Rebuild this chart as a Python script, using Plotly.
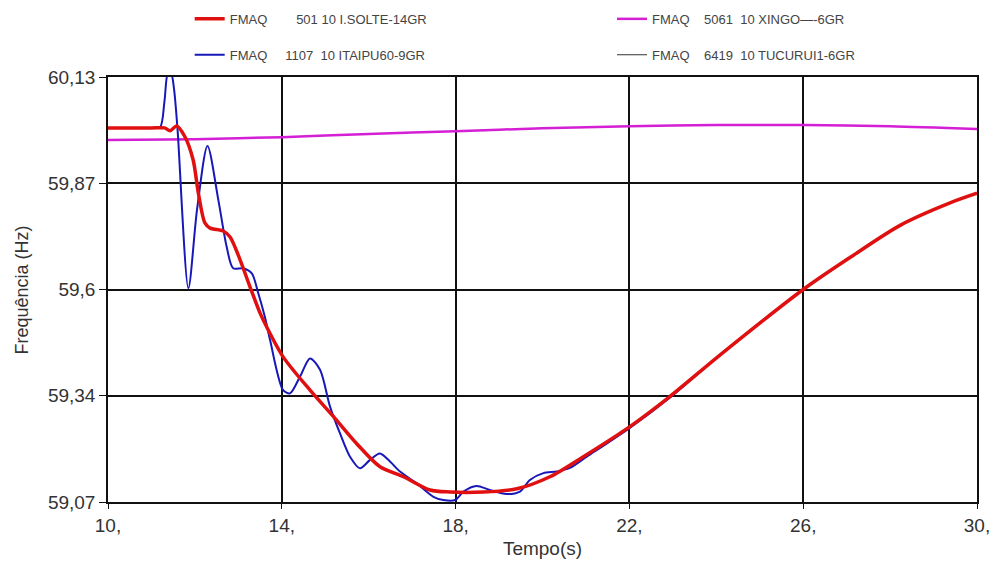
import plotly.graph_objects as go

# ---- data ----
t_solte = [10.0, 11.0, 11.3, 11.43, 11.58, 11.77, 11.96, 12.08, 12.23, 12.35, 12.65, 12.81,
           13.04, 13.27, 13.50, 13.65, 14.03, 14.65, 15.19, 15.72, 16.26, 16.80, 17.41,
           17.87, 18.64, 19.41, 20.17, 20.94, 22.01, 22.93, 24.09, 26.0, 27.08, 28.23,
           29.38, 30.0]
f_solte = [60.003, 60.003, 60.003, 59.996, 60.008, 59.981, 59.923, 59.840, 59.766, 59.753,
           59.746, 59.731, 59.674, 59.606, 59.541, 59.507, 59.432, 59.349, 59.283, 59.216,
           59.158, 59.133, 59.100, 59.095, 59.095, 59.103, 59.133, 59.183, 59.258, 59.333,
           59.437, 59.600, 59.680, 59.760, 59.816, 59.840]

t_itaipu = [10.0, 11.0, 11.2, 11.3, 11.38, 11.45, 11.52, 11.6, 11.85, 12.05, 12.29, 12.54,
            12.73, 12.88, 13.11, 13.31, 13.46, 13.61, 13.73, 14.03, 14.19, 14.42, 14.65,
            14.88, 15.11, 15.34, 15.57, 15.80, 16.03, 16.26, 16.49, 16.72, 17.10, 17.49,
            17.72, 17.99, 18.18, 18.48, 18.79, 19.17, 19.48, 19.71, 20.02, 20.33, 20.63,
            21.02, 22.01, 22.93, 24.09, 26.0, 27.08, 28.23, 29.38, 30.0]
f_itaipu = [60.003, 60.003, 60.005, 60.07, 60.14, 60.14, 60.10, 60.0, 59.603, 59.80, 59.958,
            59.823, 59.707, 59.653, 59.653, 59.640, 59.590, 59.532, 59.474, 59.349, 59.341,
            59.383, 59.428, 59.400, 59.308, 59.241, 59.183, 59.154, 59.175, 59.191, 59.171,
            59.146, 59.117, 59.083, 59.075, 59.075, 59.096, 59.110, 59.100, 59.090, 59.096,
            59.125, 59.142, 59.146, 59.155, 59.183, 59.255, 59.330, 59.437, 59.600, 59.680,
            59.760, 59.816, 59.840]

t_xingo = [10, 12, 14, 16, 18, 20, 22, 24, 26, 28, 30]
f_xingo = [59.973, 59.975, 59.980, 59.988, 59.995, 60.002, 60.007, 60.010, 60.010, 60.007, 60.000]

# Tucurui curve is hidden beneath the red curve in the reference
t_tucurui = t_solte
f_tucurui = f_solte

S = "\u00a0"
names = ["FMAQ" + S * 8 + "501 10 I.SOLTE-14GR",
         "FMAQ" + S * 5 + "1107" + S * 2 + "10 ITAIPU60-9GR",
         "FMAQ" + S * 4 + "5061" + S * 2 + "10 XINGO\u2014-6GR",
         "FMAQ" + S * 4 + "6419" + S * 2 + "10 TUCURUI1-6GR"]

x_ticks = [10, 14, 18, 22, 26, 30]
x_labels = ["10,", "14,", "18,", "22,", "26,", "30,"]
y_ticks = [59.07, 59.335, 59.6, 59.865, 60.13]
y_labels = ["59,07", "59,34", "59,6", "59,87", "60,13"]

fig = go.Figure()
fig.add_trace(go.Scatter(x=t_tucurui, y=f_tucurui, mode="lines", name=names[3],
                         line=dict(color="#333333", width=1, shape="spline", smoothing=0.8),
                         legend="legend2", legendgroup="d", legendrank=2))
fig.add_trace(go.Scatter(x=t_xingo, y=f_xingo, mode="lines", name=names[2],
                         line=dict(color="#d41fd4", width=2.5, shape="spline", smoothing=0.8),
                         legend="legend2", legendgroup="c", legendrank=1))
fig.add_trace(go.Scatter(x=t_itaipu, y=f_itaipu, mode="lines", name=names[1],
                         line=dict(color="#1818b8", width=2, shape="spline", smoothing=0.8),
                         legend="legend", legendgroup="b", legendrank=2))
fig.add_trace(go.Scatter(x=t_solte, y=f_solte, mode="lines", name=names[0],
                         line=dict(color="#e01010", width=3.5, shape="spline", smoothing=0.8),
                         legend="legend", legendgroup="a", legendrank=1))

leg_common = dict(orientation="v", font=dict(family="Liberation Sans, Arial", size=13, color="#444444"),
                  bgcolor="rgba(0,0,0,0)", tracegroupgap=16, traceorder="grouped",
                  xanchor="left", yanchor="top", yref="paper", itemwidth=30)

fig.update_layout(
    width=994, height=572,
    margin=dict(l=108, r=17, t=77, b=70, autoexpand=False),
    paper_bgcolor="white", plot_bgcolor="white",
    font=dict(family="Liberation Sans, Arial", color="#333333"),
    legend=dict(x=0.094, y=1.172, **leg_common),
    legend2=dict(x=0.58, y=1.172, **leg_common),
    xaxis=dict(range=[10, 30], tickvals=x_ticks, ticktext=x_labels,
               showgrid=True, gridcolor="#111111", gridwidth=1.5,
               showline=True, linecolor="#111111", linewidth=1.5, mirror=True,
               ticks="outside", ticklen=5, tickcolor="#111111",
               tickfont=dict(size=19, color="#333333"), zeroline=False,
               title=dict(text="Tempo(s)", font=dict(size=19, color="#333333"), standoff=7)),
    yaxis=dict(range=[59.07, 60.13], tickvals=y_ticks, ticktext=y_labels,
               showgrid=True, gridcolor="#111111", gridwidth=1.5,
               showline=True, linecolor="#111111", linewidth=1.5, mirror=True,
               ticks="outside", ticklen=7, tickcolor="#111111",
               tickfont=dict(size=19, color="#333333"), zeroline=False),
    annotations=[dict(text="Frequência (Hz)", textangle=-90, xref="paper", yref="paper",
                      x=-0.099, y=0.5, xanchor="center", yanchor="middle", showarrow=False,
                      font=dict(size=18, color="#333333"))],
)

fig.write_html("out.html")
